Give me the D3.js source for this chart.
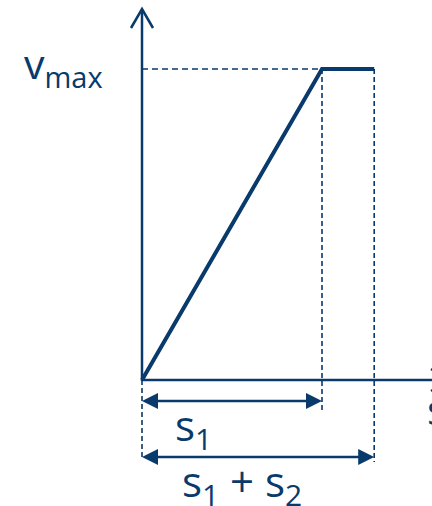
<!DOCTYPE html>
<html>
<head>
<meta charset="utf-8">
<script src="https://cdn.jsdelivr.net/npm/d3@7"></script>
<style>
  body { margin: 0; background: white; }
  svg { display: block; font-family: "Open Sans", "Noto Sans", sans-serif; }
</style>
</head>
<body>
<svg id="chart"></svg>
<script>
// velocity profile: accelerate over s1, then constant vmax over s2
const S1 = 1;
const S2 = 0.29;
const profileS = [0, S1, S1 + S2];
const profileV = [0, 1, 1];
const spans = [
    { from: 0, to: S1, label: "1", plus: false },
    { from: 0, to: S1 + S2, label: "1", plus: true }
];

const color = "#083a6b";
const width = 432, height = 506;

const svg = d3.select("#chart")
    .attr("width", width)
    .attr("height", height);

//scales (origin at 142,380)
const x = d3.scaleLinear().domain([0, 1]).range([142, 322]);
const y = d3.scaleLinear().domain([0, 1]).range([380, 69]);

//axes
svg.append("line")
    .attr("x1", x(0)).attr("y1", y(0) + 1)
    .attr("x2", x(0)).attr("y2", 9)
    .attr("stroke", color).attr("stroke-width", 2.5);
svg.append("path")
    .attr("d", `M${x(0) - 11},${28} L${x(0)},${9} L${x(0) + 11},${28}`)
    .attr("fill", "none").attr("stroke", color).attr("stroke-width", 2.5);

svg.append("line")
    .attr("x1", x(0)).attr("y1", y(0))
    .attr("x2", 452).attr("y2", y(0))
    .attr("stroke", color).attr("stroke-width", 2.5);
svg.append("path")
    .attr("d", `M${431},${y(0) - 11} L${450},${y(0)} L${431},${y(0) + 11}`)
    .attr("fill", "none").attr("stroke", color).attr("stroke-width", 2.5);

//dashed guides
svg.append("line")
    .attr("x1", x(0)).attr("y1", y(1))
    .attr("x2", x(S1)).attr("y2", y(1))
    .attr("stroke", color).attr("stroke-width", 1.6)
    .attr("stroke-dasharray", "6,4");
svg.append("line")
    .attr("x1", x(S1)).attr("y1", y(1))
    .attr("x2", x(S1)).attr("y2", 410)
    .attr("stroke", color).attr("stroke-width", 1.6)
    .attr("stroke-dasharray", "5,3");
svg.append("line")
    .attr("x1", x(S1 + S2)).attr("y1", y(1))
    .attr("x2", x(S1 + S2)).attr("y2", 462)
    .attr("stroke", color).attr("stroke-width", 1.6)
    .attr("stroke-dasharray", "5,3");
svg.append("line")
    .attr("x1", x(0)).attr("y1", y(0))
    .attr("x2", x(0)).attr("y2", 458)
    .attr("stroke", color).attr("stroke-width", 1.6)
    .attr("stroke-dasharray", "5,3");

//profile line
const line = d3.line()
    .x((d, i) => x(profileS[i]))
    .y((d, i) => y(profileV[i]));
svg.append("path")
    .datum(profileS)
    .attr("d", line)
    .attr("fill", "none")
    .attr("stroke", color)
    .attr("stroke-width", 4)
    .attr("stroke-linejoin", "miter");

//vmax label
const vLabel = svg.append("text")
    .attr("x", 24).attr("y", 79)
    .attr("fill", color)
    .style("font-size", "41px");
vLabel.append("tspan").text("v");
vLabel.append("tspan").attr("dy", 9).style("font-size", "29px").text("max");

//dimension arrows
const arrowY = [401, 457];
spans.forEach((sp, i) => {
    const yy = arrowY[i];
    const x1 = x(sp.from), x2 = x(sp.to);
    svg.append("line")
        .attr("x1", x1 + 12).attr("y1", yy)
        .attr("x2", x2 - 12).attr("y2", yy)
        .attr("stroke", color).attr("stroke-width", 2.5);
    svg.append("path")
        .attr("d", `M${x1},${yy} L${x1 + 16},${yy - 8} L${x1 + 16},${yy + 8} Z`)
        .attr("fill", color);
    svg.append("path")
        .attr("d", `M${x2},${yy} L${x2 - 16},${yy - 8} L${x2 - 16},${yy + 8} Z`)
        .attr("fill", color);
});

//span labels
const s1Label = svg.append("text")
    .attr("x", 175).attr("y", 441)
    .attr("fill", color)
    .style("font-size", "42px");
s1Label.append("tspan").text("s");
s1Label.append("tspan").attr("dy", 9).style("font-size", "30px").text("1");

const sumLabel = svg.append("text")
    .attr("x", 182).attr("y", 497)
    .attr("fill", color)
    .style("font-size", "42px");
sumLabel.append("tspan").text("s");
sumLabel.append("tspan").attr("dy", 9).style("font-size", "30px").text("1");
sumLabel.append("tspan").attr("dy", -9).text(" + s");
sumLabel.append("tspan").attr("dy", 9).style("font-size", "30px").text("2");

//x-axis label (cut at the edge)
svg.append("text")
    .attr("x", 427).attr("y", 425)
    .attr("fill", color)
    .style("font-size", "42px")
    .text("s");
</script>
</body>
</html>
